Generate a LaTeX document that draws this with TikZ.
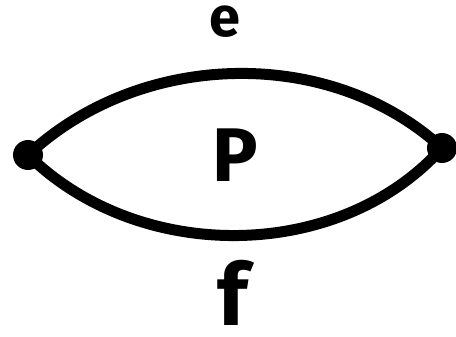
\documentclass[tikz,border=0pt]{standalone}
\usepackage{fontspec}
\setmainfont{Fira Sans}
\tikzset{
  edge/.style={line width=11pt, line cap=round},
  vdot/.style={circle, fill=black, inner sep=0pt, minimum size=30pt},
  lbl/.style={inner sep=0pt}
}
\begin{document}
\begin{tikzpicture}[x=1pt,y=-1pt]
\useasboundingbox (0,0) rectangle (456,337);
\node[vdot] (L) at (28,155) {};
\node[vdot] (R) at (442,148) {};
\draw[edge] (L.center) .. controls (140,50) and (330,45) .. (R.center);
\draw[edge] (L.center) .. controls (140,265) and (340,262) .. (R.center);
\node[lbl, font=\fontsize{56}{56}\selectfont\bfseries] (e) at (225,22) {e};
\node[lbl, font=\fontsize{76}{76}\selectfont\bfseries] (P) at (235,155) {P};
\node[lbl, font=\fontsize{86}{86}\selectfont\bfseries] (f) at (233,293) {f};
\end{tikzpicture}
\end{document}
